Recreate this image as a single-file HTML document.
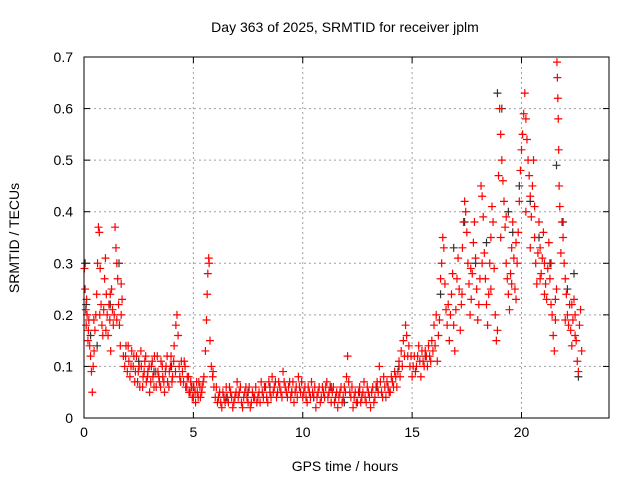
<!DOCTYPE html>
<html><head><meta charset="utf-8"><style>
body{margin:0;background:#fff;}
svg{display:block;font-family:"Liberation Sans",sans-serif;}
</style></head><body>
<svg id="chart" width="640" height="480" viewBox="0 0 640 480">
<rect width="640" height="480" fill="#fff"/>
<text x="345" y="32" font-size="14" text-anchor="middle">Day 363 of 2025, SRMTID for receiver jplm</text>
<text x="345" y="471" font-size="14" text-anchor="middle">GPS time / hours</text>
<text transform="translate(19,238) rotate(-90)" font-size="14" text-anchor="middle">SRMTID / TECUs</text>
<g id="grid"></g><g id="ticks"></g><g id="marks"></g>
<rect x="84" y="57" width="525" height="361" fill="none" stroke="#000" stroke-width="1"/>
</svg>
<script>
const xTicks=[0,5,10,15,20];
const yTicks=[0,0.1,0.2,0.3,0.4,0.5,0.6,0.7];
const yTickLabels=["0","0.1","0.2","0.3","0.4","0.5","0.6","0.7"];
const blackPoints=[[0.05,0.3],[0.1,0.22],[0.3,0.16],[0.6,0.14],[1.2,0.22],[1.6,0.3],[2.5,0.11],[3.2,0.09],[4.0,0.1],[5.0,0.06],[6.5,0.04],[7.5,0.05],[8.5,0.06],[9.5,0.05],[10.5,0.04],[11.3,0.06],[11.9,0.03],[12.6,0.05],[13.4,0.06],[14.4,0.1],[15.6,0.12],[16.3,0.24],[16.9,0.33],[17.4,0.38],[17.9,0.3],[18.4,0.34],[18.9,0.63],[19.1,0.6],[19.4,0.4],[19.6,0.36],[19.9,0.45],[20.4,0.42],[20.8,0.35],[21.3,0.3],[21.6,0.49],[21.9,0.38],[22.1,0.25],[22.4,0.28],[22.6,0.08]];
const redPoints=[
[0.02,0.29],[0.05,0.25],[0.08,0.21],[0.1,0.18],[0.14,0.2],[0.18,0.15],[0.22,0.19],[0.26,0.14],[0.3,0.12],[0.34,0.09],[0.38,0.05],[0.42,0.1],[0.46,0.13],[0.5,0.17],[0.54,0.2],[0.58,0.24],[0.62,0.3],[0.66,0.37],[0.7,0.36],[0.74,0.29],[0.78,0.22],[0.82,0.18],[0.86,0.16],[0.9,0.21],[0.94,0.27],[0.98,0.31],[1.02,0.24],[1.06,0.2],[1.1,0.16],[1.14,0.22],[1.18,0.19],[1.22,0.13],[1.26,0.25],[1.3,0.21],[1.34,0.18],[1.38,0.2],[1.42,0.37],[1.46,0.33],[1.5,0.3],[1.54,0.27],[1.58,0.22],[1.62,0.18],[1.66,0.14],[1.7,0.2],[1.74,0.23],[1.8,0.12],[1.86,0.1],[1.92,0.14],[1.98,0.09],
[2.05,0.11],[2.1,0.08],[2.18,0.13],[2.25,0.1],[2.32,0.07],[2.4,0.12],[2.48,0.09],[2.55,0.06],[2.62,0.1],[2.7,0.08],[2.78,0.11],[2.85,0.07],[2.92,0.09],[3.0,0.05],[3.08,0.1],[3.15,0.08],[3.22,0.12],[3.3,0.06],[3.38,0.09],[3.45,0.07],[3.52,0.11],[3.6,0.08],[3.68,0.05],[3.75,0.1],[3.82,0.07],[3.9,0.09],[3.98,0.12],[4.05,0.08],[4.12,0.14],[4.2,0.18],[4.25,0.2],[4.3,0.16],[4.35,0.1],[4.42,0.07],[4.5,0.09],[4.58,0.11],[4.65,0.06],[4.72,0.08],[4.8,0.05],[4.88,0.07],[4.95,0.04],[5.02,0.06],[5.1,0.03],[5.18,0.05],[5.25,0.07],[5.32,0.04],[5.4,0.06],[5.48,0.08],[5.55,0.13],[5.6,0.19],[5.63,0.24],[5.66,0.28],[5.7,0.31],[5.72,0.3],[5.76,0.15],[5.82,0.1],[5.88,0.08],[5.94,0.06],
[6.0,0.04],[6.1,0.03],[6.2,0.05],[6.3,0.02],[6.4,0.04],[6.5,0.06],[6.6,0.03],[6.7,0.05],[6.8,0.02],[6.9,0.04],[7.0,0.07],[7.1,0.05],[7.2,0.03],[7.3,0.04],[7.4,0.06],[7.5,0.03],[7.6,0.02],[7.7,0.05],[7.8,0.04],[7.9,0.03],[8.0,0.05],[8.1,0.07],[8.2,0.04],[8.3,0.06],[8.4,0.03],[8.5,0.05],[8.6,0.08],[8.7,0.06],[8.8,0.04],[8.9,0.07],[9.0,0.05],[9.1,0.09],[9.2,0.06],[9.3,0.04],[9.4,0.07],[9.5,0.05],[9.6,0.03],[9.7,0.06],[9.8,0.08],[9.9,0.05],[10.0,0.04],[10.1,0.06],[10.2,0.03],[10.3,0.05],[10.4,0.07],[10.5,0.04],[10.6,0.02],[10.7,0.05],[10.8,0.03],[10.9,0.06],[11.0,0.04],[11.1,0.07],[11.2,0.05],[11.3,0.03],[11.4,0.06],[11.5,0.04],[11.6,0.02],[11.7,0.05],[11.8,0.03],[11.9,0.06],[12.0,0.08],[12.05,0.12],[12.1,0.07],[12.2,0.04],[12.3,0.02],[12.4,0.05],[12.5,0.03],[12.6,0.06],[12.7,0.04],[12.8,0.07],[12.9,0.03],[13.0,0.05],[13.1,0.02],[13.2,0.06],[13.3,0.04],[13.4,0.07],[13.5,0.1],[13.6,0.05],[13.7,0.08],[13.8,0.04],[13.9,0.06],
[14.0,0.05],[14.1,0.07],[14.2,0.09],[14.3,0.06],[14.4,0.11],[14.5,0.13],[14.6,0.15],[14.7,0.18],[14.75,0.16],[14.8,0.12],[14.9,0.1],[15.0,0.08],[15.1,0.12],[15.2,0.1],[15.3,0.14],[15.4,0.08],[15.5,0.11],[15.6,0.13],[15.7,0.1],[15.8,0.12],[15.9,0.15],[16.0,0.18],[16.05,0.14],[16.1,0.2],[16.15,0.11],[16.2,0.16],[16.3,0.27],[16.35,0.3],[16.4,0.35],[16.45,0.33],[16.5,0.26],[16.55,0.21],[16.6,0.18],[16.7,0.15],[16.75,0.2],[16.8,0.24],[16.85,0.28],[16.9,0.18],[16.95,0.13],[17.0,0.21],[17.05,0.27],[17.1,0.31],[17.15,0.25],[17.2,0.17],[17.25,0.22],[17.3,0.33],[17.35,0.38],[17.4,0.42],[17.45,0.4],[17.5,0.36],[17.55,0.3],[17.6,0.26],[17.65,0.2],[17.7,0.23],[17.75,0.28],[17.8,0.34],[17.85,0.38],[17.9,0.31],[17.95,0.25],[18.0,0.19],[18.05,0.22],[18.1,0.27],[18.15,0.45],[18.2,0.43],[18.25,0.39],[18.3,0.32],[18.35,0.27],[18.4,0.22],[18.45,0.18],[18.5,0.24],[18.55,0.3],[18.6,0.35],[18.65,0.41],[18.7,0.38],[18.75,0.29],[18.8,0.2],[18.85,0.15],[18.9,0.17],[18.95,0.47],[19.0,0.6],[19.05,0.55],[19.1,0.5],[19.15,0.46],[19.2,0.42],[19.25,0.37],[19.3,0.3],[19.35,0.27],[19.4,0.24],[19.45,0.21],[19.5,0.28],[19.55,0.33],[19.6,0.38],[19.65,0.31],[19.7,0.25],[19.75,0.23],[19.8,0.3],[19.85,0.36],[19.9,0.42],[19.95,0.48],[20.0,0.52],[20.05,0.55],[20.1,0.59],[20.15,0.63],[20.2,0.58],[20.25,0.54],[20.3,0.5],[20.35,0.47],[20.4,0.43],[20.45,0.39],[20.5,0.45],[20.55,0.5],[20.6,0.35],[20.65,0.3],[20.7,0.26],[20.75,0.32],[20.8,0.38],[20.85,0.33],[20.9,0.28],[20.95,0.31],[21.0,0.36],[21.05,0.3],[21.1,0.26],[21.15,0.23],[21.2,0.29],[21.25,0.34],[21.3,0.27],[21.35,0.22],[21.4,0.2],[21.45,0.16],[21.5,0.13],[21.55,0.19],[21.6,0.25],[21.62,0.69],[21.64,0.66],[21.66,0.62],[21.68,0.58],[21.7,0.52],[21.72,0.45],[21.75,0.41],[21.8,0.32],[21.85,0.38],[21.9,0.35],[21.95,0.3],[22.0,0.27],[22.05,0.24],[22.1,0.2],[22.15,0.18],[22.2,0.22],[22.25,0.17],[22.3,0.14],[22.35,0.19],[22.4,0.23],[22.45,0.2],[22.5,0.15],[22.55,0.11],[22.6,0.09],[22.65,0.18],[22.7,0.21],[22.75,0.13]
];
const redPointsExtra=[
[0.12,0.23],[0.2,0.17],[0.45,0.19],[0.72,0.2],[1.0,0.17],[1.2,0.24],[1.5,0.19],[1.7,0.26],[1.9,0.12],
[2.02,0.14],[2.15,0.1],[2.28,0.12],[2.35,0.09],[2.45,0.07],[2.52,0.1],[2.6,0.13],[2.68,0.06],[2.75,0.09],[2.82,0.12],[2.9,0.08],[2.98,0.1],[3.05,0.07],[3.12,0.11],[3.2,0.06],[3.28,0.09],[3.35,0.12],[3.42,0.08],[3.5,0.06],[3.58,0.1],[3.65,0.07],[3.72,0.09],[3.8,0.12],[3.88,0.06],[3.95,0.1],[4.02,0.07],[4.1,0.11],[4.18,0.09],[4.38,0.08],[4.45,0.11],[4.55,0.07],[4.62,0.1],[4.7,0.06],[4.78,0.08],[4.85,0.05],[4.92,0.06],[5.0,0.04],[5.08,0.05],[5.15,0.07],[5.22,0.04],[5.3,0.06],[5.38,0.05],[5.45,0.07],[5.9,0.09],
[6.05,0.06],[6.15,0.04],[6.25,0.03],[6.35,0.05],[6.45,0.03],[6.55,0.04],[6.65,0.06],[6.75,0.04],[6.85,0.03],[6.95,0.05],[7.05,0.04],[7.15,0.06],[7.25,0.02],[7.35,0.05],[7.45,0.04],[7.55,0.06],[7.65,0.03],[7.75,0.04],[7.85,0.06],[7.95,0.04],[8.05,0.03],[8.15,0.05],[8.25,0.06],[8.35,0.04],[8.45,0.07],[8.55,0.04],[8.65,0.05],[8.75,0.07],[8.85,0.05],[8.95,0.06],[9.05,0.04],[9.15,0.07],[9.25,0.05],[9.35,0.06],[9.45,0.04],[9.55,0.07],[9.65,0.05],[9.75,0.04],[9.85,0.06],[9.95,0.07],[10.05,0.05],[10.15,0.04],[10.25,0.06],[10.35,0.04],[10.45,0.05],[10.55,0.06],[10.65,0.04],[10.75,0.06],[10.85,0.04],[10.95,0.05],[11.05,0.06],[11.15,0.04],[11.25,0.06],[11.35,0.05],[11.45,0.03],[11.55,0.05],[11.65,0.04],[11.75,0.06],[11.85,0.04],[11.95,0.05],[12.15,0.05],[12.25,0.06],[12.35,0.04],[12.45,0.03],[12.55,0.05],[12.65,0.03],[12.75,0.05],[12.85,0.04],[12.95,0.06],[13.05,0.04],[13.15,0.05],[13.25,0.03],[13.35,0.06],[13.45,0.05],[13.55,0.07],[13.65,0.04],[13.75,0.06],[13.85,0.07],[13.95,0.05],
[14.05,0.08],[14.15,0.06],[14.25,0.08],[14.35,0.09],[14.45,0.08],[14.55,0.1],[14.65,0.12],[14.85,0.14],[14.95,0.12],[15.05,0.1],[15.15,0.09],[15.25,0.12],[15.35,0.11],[15.45,0.13],[15.55,0.1],[15.65,0.12],[15.75,0.14],[15.85,0.11],[15.95,0.13],[16.25,0.19],[16.65,0.22],[17.28,0.24],[17.68,0.29],[18.2,0.3],[18.6,0.25],[19.05,0.35],[19.3,0.39],[19.55,0.26],[19.75,0.34],[20.2,0.4],[20.4,0.33],[20.6,0.41],[20.85,0.27],[21.05,0.24],[21.35,0.3],[21.55,0.23],[22.0,0.19],[22.3,0.22],[22.45,0.16]
];
const X=h=>84+h*(525/24);
const Y=v=>418-v*(361/0.7);
const NS="http://www.w3.org/2000/svg";
const grid=document.getElementById('grid'),ticks=document.getElementById('ticks'),marks=document.getElementById('marks');
function mk(tag,attrs,parent){const e=document.createElementNS(NS,tag);for(const k in attrs)e.setAttribute(k,attrs[k]);parent.appendChild(e);return e;}
xTicks.forEach(t=>{
  const x=X(t);
  if(t>0){const g=mk('line',{x1:x,x2:x,y1:57,y2:418,stroke:'#a0a0a0','stroke-dasharray':'2,3'},grid);
  
  }
  mk('line',{x1:x,x2:x,y1:418,y2:412,stroke:'#000'},ticks);
  mk('line',{x1:x,x2:x,y1:57,y2:63,stroke:'#000'},ticks);
  const l=mk('text',{x:x,y:437,'font-size':14,'text-anchor':'middle'},ticks);l.textContent=t;
  
  
});
yTicks.forEach((t,i)=>{
  const y=Y(t);
  if(t>0&&t<0.7){const g=mk('line',{x1:84,x2:609,y1:y,y2:y,stroke:'#a0a0a0','stroke-dasharray':'2,3'},grid);
  
  }
  mk('line',{x1:84,x2:90,y1:y,y2:y,stroke:'#000'},ticks);
  mk('line',{x1:603,x2:609,y1:y,y2:y,stroke:'#000'},ticks);
  const l=mk('text',{x:73,y:y+5,'font-size':14,'text-anchor':'end'},ticks);l.textContent=yTickLabels[i];
  
  
});
function plus(p,color,name){
  const x=X(p[0]),y=Y(p[1]);
  const e=mk('path',{d:`M${x-4},${y}H${x+4}M${x},${y-4}V${y+4}`,stroke:color,'stroke-width':1.2,fill:'none'},marks);
  
  
}
blackPoints.forEach(p=>plus(p,'#333','point-black'));
redPoints.forEach(p=>plus(p,'#ff0000','point-red'));
redPointsExtra.forEach(p=>plus(p,'#ff0000','point-red'));
</script>
</body></html>
